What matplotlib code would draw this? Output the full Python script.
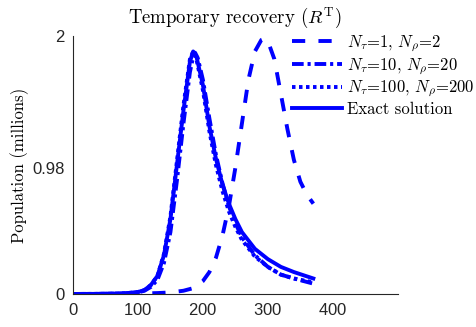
import matplotlib
matplotlib.use('Agg')
import matplotlib.pyplot as plt

plt.rcParams['font.family'] = 'serif'
plt.rcParams['font.serif'] = ['cmr10']
plt.rcParams['mathtext.fontset'] = 'cm'
plt.rcParams['axes.formatter.use_mathtext'] = True

# N_tau=1, N_rho=2
t1 = [0, 100, 130, 150, 170, 185, 200, 210, 220, 230, 240, 250, 260, 270,
      280, 290, 295, 300, 310, 320, 330, 340, 350, 360, 370]
y1 = [0, 0.003, 0.007, 0.012, 0.025, 0.045, 0.10, 0.17, 0.28, 0.45, 0.68,
      0.98, 1.32, 1.66, 1.88, 1.97, 1.98, 1.96, 1.82, 1.55, 1.28, 1.04,
      0.87, 0.77, 0.70]

# N_tau=10, N_rho=20
t10 = [0, 50, 80, 100, 110, 120, 130, 140, 150, 160, 170, 180, 185, 188,
       192, 200, 210, 220, 230, 240, 250, 260, 280, 300, 320, 340, 370]
y10 = [0, 0.001, 0.004, 0.012, 0.025, 0.055, 0.11, 0.24, 0.48, 0.88, 1.32,
       1.72, 1.84, 1.87, 1.83, 1.66, 1.36, 1.08, 0.86, 0.68, 0.55, 0.44,
       0.30, 0.21, 0.15, 0.12, 0.08]

# N_tau=100, N_rho=200
t100 = [0, 50, 80, 100, 110, 120, 130, 140, 150, 160, 170, 180, 185, 190,
        200, 210, 220, 230, 240, 250, 260, 280, 300, 320, 340, 370]
y100 = [0, 0.001, 0.005, 0.015, 0.03, 0.07, 0.14, 0.31, 0.60, 1.03, 1.46,
        1.82, 1.88, 1.82, 1.58, 1.26, 1.00, 0.80, 0.64, 0.52, 0.42, 0.29,
        0.21, 0.15, 0.12, 0.09]

# exact solution
te = [0, 50, 80, 100, 110, 120, 130, 140, 150, 160, 170, 180, 185, 190,
      200, 210, 220, 230, 240, 250, 260, 280, 300, 320, 340, 370]
ye = [0, 0.001, 0.005, 0.015, 0.03, 0.07, 0.14, 0.30, 0.58, 1.00, 1.42,
      1.80, 1.88, 1.84, 1.62, 1.30, 1.05, 0.85, 0.70, 0.58, 0.48, 0.35,
      0.27, 0.21, 0.17, 0.12]

labels = [r'$N_\tau$=1, $N_\rho$=2', r'$N_\tau$=10, $N_\rho$=20',
          r'$N_\tau$=100, $N_\rho$=200', 'Exact solution']

blue = '#0000ff'
lw = 2.8

fig = plt.figure(figsize=(4.77, 3.27), dpi=100)
ax = fig.add_axes([0.153, 0.101, 0.681, 0.789])

ax.plot(t1, y1, color=blue, lw=lw, dashes=(3.4, 3.4), label=labels[0])
ax.plot(t10, y10, color=blue, lw=lw, dashes=(3, 1, 0.8, 1), label=labels[1])
ax.plot(t100, y100, color=blue, lw=lw, dashes=(0.9, 0.9), label=labels[2])
ax.plot(te, ye, color=blue, lw=lw, label=labels[3])

ax.set_xlim(0, 500)
ax.set_ylim(0, 2)
ax.set_xticks([0, 100, 200, 300, 400])
ax.set_yticks([0, 0.98, 2])
ax.set_yticklabels(['0', '0.98', '2'])
ax.tick_params(length=0, labelsize=12, pad=6)
for lab in ax.get_xticklabels() + ax.get_yticklabels():
    lab.set_family('Liberation Sans')
    lab.set_color('#262626')

for s in ['top', 'right']:
    ax.spines[s].set_visible(False)
for s in ['left', 'bottom']:
    ax.spines[s].set_color('#262626')
    ax.spines[s].set_linewidth(0.8)

ax.set_title(r'Temporary recovery ($R^{\mathrm{T}}$)', fontsize=13.5, pad=9)
ax.set_ylabel('Population (millions)', fontsize=12, labelpad=2)

ax.legend(loc='upper left', bbox_to_anchor=(0.674, 1.01), frameon=False,
          fontsize=12, handlelength=3.0, handletextpad=0.3,
          labelspacing=0.15, borderaxespad=0, borderpad=0)

fig.savefig('out.png', dpi=100)
